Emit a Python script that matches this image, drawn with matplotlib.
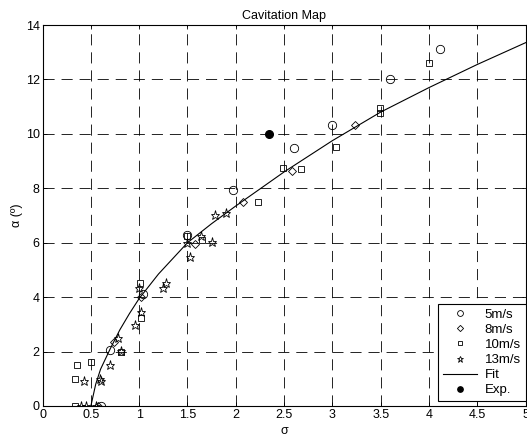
import matplotlib
matplotlib.use('Agg')
import matplotlib.pyplot as plt

plt.rcParams['font.family'] = ['Liberation Sans', 'DejaVu Sans']
plt.rcParams['font.size'] = 9
plt.rcParams['lines.scale_dashes'] = False

# measured points, sigma vs alpha
circle_x = [0.6, 0.7, 1.04, 1.5, 1.97, 2.6, 3.0, 3.6, 4.11]
circle_y = [0, 2.06, 4.12, 6.3, 7.92, 9.47, 10.33, 12.0, 13.1]

diamond_x = [0.57, 0.74, 1.02, 1.58, 2.07, 2.58, 3.23]
diamond_y = [0, 2.35, 4.0, 5.96, 7.5, 8.64, 10.33]

square_x = [0.34, 0.34, 0.355, 0.5, 0.81, 1.01, 1.02, 1.5, 1.65, 2.23, 2.49, 2.67, 3.04, 3.49, 3.49, 4.0]
square_y = [0, 0.99, 1.5, 1.63, 2.0, 4.51, 3.22, 6.25, 6.1, 7.5, 8.74, 8.7, 9.5, 10.94, 10.76, 12.6]

star_x = [0.4, 0.45, 0.55, 0.43, 0.59, 0.6, 0.7, 0.78, 0.81, 0.96, 1.02, 1.0,
          1.25, 1.28, 1.49, 1.53, 1.64, 1.75, 1.79, 1.9]
star_y = [0, 0, 0, 0.92, 1.0, 0.9, 1.5, 2.49, 2.03, 2.98, 3.47, 4.33,
          4.33, 4.53, 6.0, 5.49, 6.25, 6.02, 7.02, 7.08]

# fit curve
fit_x = [0.5, 0.55, 0.6, 0.7, 0.8, 0.9, 1.0, 1.2, 1.5, 1.75, 2.0, 2.5, 3.0, 3.5, 4.0, 4.5, 5.0, 5.1]
fit_y = [0, 0.8, 1.35, 2.1, 2.8, 3.4, 3.95, 4.85, 6.0, 6.7, 7.35, 8.6, 9.75, 10.8, 11.7, 12.55, 13.35, 13.5]

exp_x = [2.34]
exp_y = [10.0]

fig = plt.figure(figsize=(5.27, 4.41), dpi=100)
ax = fig.add_axes([0.0808, 0.0794, 0.9165, 0.8639])

ax.plot(circle_x, circle_y, 'o', mfc='none', mec='k', mew=0.6, ms=6, label='5m/s')
ax.plot(diamond_x, diamond_y, 'D', mfc='none', mec='k', mew=0.6, ms=4.5, label='8m/s')
ax.plot(square_x, square_y, 's', mfc='none', mec='k', mew=0.6, ms=4.5, label='10m/s')
ax.plot(star_x, star_y, '*', mfc='none', mec='k', mew=0.6, ms=6.5, label='13m/s')
ax.plot(fit_x, fit_y, '-', color='k', lw=0.8, label='Fit')
ax.plot(exp_x, exp_y, 'o', color='k', ms=5.5, label='Exp.')

ax.set_xlim(0, 5)
ax.set_ylim(0, 14)
ax.set_xticks([0, 0.5, 1, 1.5, 2, 2.5, 3, 3.5, 4, 4.5, 5])
ax.set_xticklabels(['0', '0.5', '1', '1.5', '2', '2.5', '3', '3.5', '4', '4.5', '5'])
ax.set_yticks(range(0, 15, 2))
ax.tick_params(direction='in', top=True, right=True, length=3, width=0.6, pad=2)
ax.grid(True, color='k', lw=0.6, linestyle=(0, (8, 5)))
for s in ax.spines.values():
    s.set_linewidth(0.8)

ax.set_title('Cavitation Map', fontsize=9, pad=4)
ax.set_xlabel('σ', labelpad=3)
ax.set_ylabel('α (º)', labelpad=2)

leg = ax.legend(loc='lower right', bbox_to_anchor=(1.0, 0.013), markerscale=0.7,
                fancybox=False, framealpha=1, edgecolor='k', borderaxespad=0,
                handlelength=2.6, labelspacing=0.22, borderpad=0.35,
                handletextpad=0.6, fontsize=9.5)
leg.get_frame().set_linewidth(0.8)

fig.savefig('out.png', dpi=100)
